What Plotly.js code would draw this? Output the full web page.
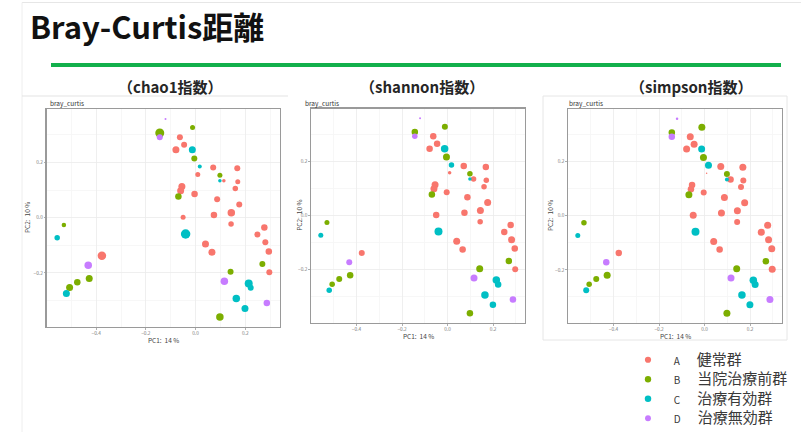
<!DOCTYPE html>
<html><head><meta charset="utf-8">
<script src="https://cdn.plot.ly/plotly-3.0.1.min.js"></script>
<style>html,body{margin:0;padding:0;background:#fff}#chart{width:801px;height:435px}</style>
</head><body><div id="chart"></div>
<script>
// ---- data ----
const groups = ['A','B','C','D'];
const groupNames = ['健常群','当院治療前群','治療有効群','治療無効群'];
const groupColors = ['#F8766D','#7CAE00','#00BFC4','#C77CFF'];
const pc1 = [-0.121,-0.012,-0.144,-0.144,-0.063,-0.046,-0.079,-0.013,-0.005,0.017,
  0.071,0.168,0.009,0.098,0.098,0.114,0.170,-0.055,-0.060,0.160,
  -0.004,-0.069,0.087,0.176,-0.050,0.074,0.144,0.143,0.277,-0.040,
  0.249,0.281,0.040,0.295,0.066,0.269,0.297,0.141,0.116,0.214,
  0.222,0.287,0.164,0.199,0.098,-0.530,-0.557,-0.377,-0.432,-0.428,
  -0.476,-0.507,-0.520];
const pc2 = [0.358,0.327,0.307,0.292,0.292,0.264,0.246,0.246,0.215,0.186,
  0.182,0.179,0.157,0.154,0.134,0.134,0.130,0.113,0.098,0.106,
  0.086,0.077,0.067,0.048,0.002,0.010,0.018,-0.023,-0.035,-0.059,
  -0.061,-0.089,-0.095,-0.122,-0.125,-0.168,-0.198,-0.196,-0.230,-0.238,
  -0.254,-0.309,-0.293,-0.329,-0.360,-0.026,-0.073,-0.138,-0.172,-0.220,
  -0.234,-0.253,-0.275];
const group = ['D','B','B','D','A','A','A','C','B','C',
  'A','A','A','B','C','A','A','A','A','A',
  'A','B','A','A','A','A','A','A','A','C',
  'A','A','A','A','A','B','A','B','D','C',
  'C','D','C','C','B','B','C','A','D','B',
  'B','B','C'];
// relative index values
const chao1 = [2,5,9,6,6,6,7,7,6,4,
  6,6,5,5,3.5,3.5,5,7,7,5.5,
  6.5,6.5,6,6,5,6.5,7.5,5.5,6.5,9.5,
  6,6,7,6.5,7,6,6,6,7.5,8,
  6,6.5,7.5,7,7.5,4.5,5.5,8.5,7.5,7,
  6.5,7,7];
const shannon = [2,6,6.5,5.5,6.5,6.5,6.5,7.5,7,5.5,
  6.5,6.5,3.5,5.5,3.5,5.5,5.5,7,7,5.5,
  6,6.5,6.5,7,6.5,6.5,7,5.5,6.5,8,
  6.5,7,7,6.5,6.5,6.5,6,7,7,7.5,
  6.5,6.5,7.5,6.5,6.5,5,5,6,6,6.5,
  6,5.5,5.5];
const simpson = [2.5,7,6.5,6.5,7,7,7,7,7,7,
  7,7,1.5,6,4,6.5,6,6.5,6.5,6,
  6,7,7,7,7,7,7,6,7,8,
  7,7,7,7,6.5,6.5,7,7,7,7.5,
  7,7,7.5,7,7,5.5,5,6.5,6.5,7,
  6,5.5,6];
const indexSets = [chao1, shannon, simpson];
const panelTitles = ['（chao1指数）','（shannon指数）','（simpson指数）'];
const xTicks = [-0.4,-0.2,0.0,0.2];
const yTicks = [-0.2,0.0,0.2];
const xMinor = [-0.5,-0.3,-0.1,0.1,0.3];
const yMinor = [-0.3,-0.1,0.1,0.3];
const xTitle = 'PC1:  14 %';
const yTitle = 'PC2:  10 %';
const plotTitle = 'bray_curtis';
const mainTitle = 'Bray-Curtis距離';

// ---- layout helpers (pixels -> paper) ----
const W = 801, H = 435;
const px = v => v / W;
const py = v => 1 - v / H;
const panels = [
  {l:46.5, r:280, t:109, b:327, tx:170, ytl:27, btl:48},
  {l:311, r:525, t:108.5, b:323, tx:422, ytl:299, btl:303},
  {l:568, r:782, t:109, b:323, tx:691, ytl:550, btl:567}
];
const sizeScale = v => v * 1.0;

const FONT = '"Noto Sans CJK JP", "Noto Sans", sans-serif';
const data = [];
const layout = {
  width: W, height: H, margin: {l:0, r:0, t:0, b:0},
  paper_bgcolor: '#fff', plot_bgcolor: '#fff',
  showlegend: true,
  legend: {x: px(628), y: py(345), xanchor: 'left', yanchor: 'top',
    font: {family: FONT, size: 12.7, color: '#3a3a3a'}, bgcolor: 'rgba(0,0,0,0)',
    tracegroupgap: 0, itemwidth: 30},
  shapes: [], annotations: []
};

panels.forEach((p, i) => {
  const sfx = i === 0 ? '' : String(i + 1);
  const common = {
    showline: true, mirror: true, linecolor: '#9a9a9a', linewidth: 1.2,
    showgrid: true, gridcolor: '#ebebeb', gridwidth: 0.8, zeroline: false,
    ticks: 'outside', ticklen: 1.5, tickcolor: '#9a9a9a', tickwidth: 0.8,
    tickfont: {family: FONT, size: 4.8, color: '#7a7a7a'}, tickformat: '.1f'
  };
  layout['xaxis' + sfx] = Object.assign({}, common, {
    domain: [px(p.l), px(p.r)], range: [-0.6, 0.34], anchor: 'y' + sfx,
    tickvals: xTicks, minor: {tickvals: xMinor, showgrid: true, gridcolor: '#f5f5f5', ticks: ''}
  });
  layout['yaxis' + sfx] = Object.assign({}, common, {
    domain: [py(p.b), py(p.t)], range: [-0.396, 0.394], anchor: 'x' + sfx,
    tickvals: yTicks, minor: {tickvals: yMinor, showgrid: true, gridcolor: '#f5f5f5', ticks: ''}
  });
  groups.forEach((g, gi) => {
    const idx = group.map((v, k) => v === g ? k : -1).filter(k => k >= 0);
    data.push({
      type: 'scatter', mode: 'markers',
      x: idx.map(k => pc1[k]), y: idx.map(k => pc2[k]),
      xaxis: 'x' + sfx, yaxis: 'y' + sfx,
      name: '  <span style="font-size:10px">' + g + '</span>      <span style="font-size:15px">' + groupNames[gi] + '</span>',
      showlegend: i === 0,
      marker: {color: groupColors[gi], opacity: 1, size: idx.map(k => sizeScale(indexSets[i][k])),
        sizemode: 'diameter', sizeref: 1, line: {width: 0}},
      hoverinfo: 'skip'
    });
  });
  layout.annotations.push(
    {text: panelTitles[i], x: px(p.tx), y: py(87), xref: 'paper', yref: 'paper',
     xanchor: 'center', yanchor: 'middle', showarrow: false,
     font: {family: FONT, size: 15, color: '#262626', weight: 'bold'}},
    {text: plotTitle, x: px(p.btl), y: py(103), xref: 'paper', yref: 'paper',
     xanchor: 'left', yanchor: 'middle', showarrow: false,
     font: {family: FONT, size: 6.5, color: '#333'}},
    {text: xTitle, x: px((p.l + p.r) / 2), y: py(p.b + 13), xref: 'paper', yref: 'paper',
     xanchor: 'center', yanchor: 'middle', showarrow: false,
     font: {family: FONT, size: 6.5, color: '#444'}},
    {text: yTitle, x: px(p.ytl), y: py((p.t + p.b) / 2), xref: 'paper', yref: 'paper',
     xanchor: 'center', yanchor: 'middle', showarrow: false, textangle: -90,
     font: {family: FONT, size: 6.5, color: '#444'}}
  );
});

layout.annotations.push({text: '<b>' + mainTitle + '</b>', x: px(28), y: py(25), xref: 'paper', yref: 'paper',
  xanchor: 'left', yanchor: 'middle', showarrow: false,
  font: {family: FONT, size: 31, color: '#111'}});

layout.shapes.push(
  {type: 'line', xref: 'paper', yref: 'paper', x0: px(22), x1: 1, y0: py(2.5), y1: py(2.5), line: {color: '#e6e6e6', width: 1}},
  {type: 'line', xref: 'paper', yref: 'paper', x0: px(22), x1: px(22), y0: py(2.5), y1: py(432), line: {color: '#eeeeee', width: 1}},
  {type: 'line', xref: 'paper', yref: 'paper', x0: px(51), x1: px(781), y0: py(65), y1: py(65), line: {color: '#12b04c', width: 4}},
  {type: 'line', xref: 'paper', yref: 'paper', x0: px(22), x1: px(288), y0: py(96), y1: py(96), line: {color: '#e3e3e3', width: 1}},
  {type: 'rect', xref: 'paper', yref: 'paper', x0: px(543), x1: px(787), y0: py(340), y1: py(96), line: {color: '#e6e6e6', width: 1}}
);

Plotly.newPlot('chart', data, layout, {staticPlot: true});
</script></body></html>
